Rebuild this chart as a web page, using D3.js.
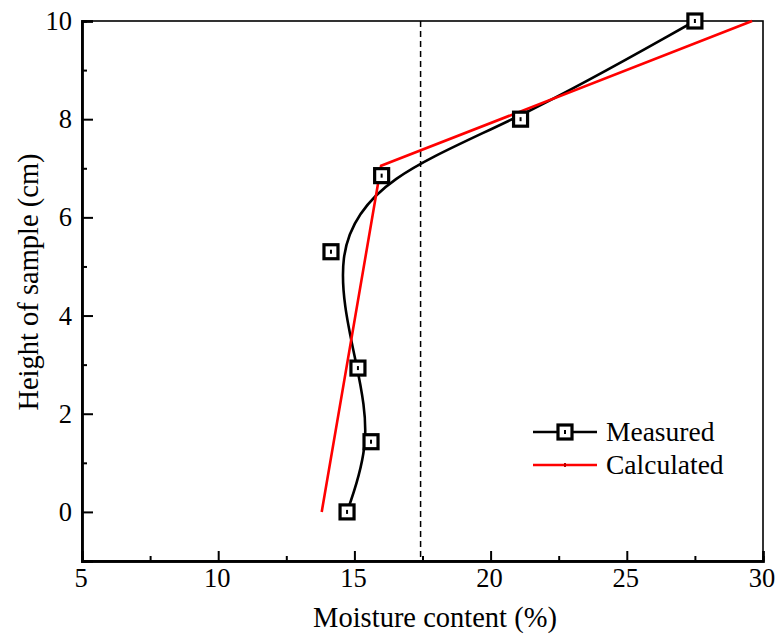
<!DOCTYPE html>
<html>
<head>
<meta charset="utf-8">
<script src="https://cdn.jsdelivr.net/npm/d3@7"></script>
<style>
  body { margin: 0; background: #fff; }
  svg { display: block; font-family: "Liberation Serif", "Times New Roman", serif; }
</style>
</head>
<body>
<svg id="chart" width="780" height="634"></svg>
<script>
// measured moisture profile
const measuredMoisture = [14.73, 15.61, 15.13, 14.14, 16.0, 21.1, 27.5];
const measuredHeight = [0, 1.43, 2.93, 5.3, 6.85, 8.0, 10.0];

// calculated profile
const calcMoisture = [13.8, 15.98, 29.6];
const calcHeight = [0, 7.05, 10.0];

const thresholdMoisture = 17.43;

const xTicks = [5, 10, 15, 20, 25, 30];
const yTicks = [0, 2, 4, 6, 8, 10];

const margin = { left: 82, right: 17, top: 21, bottom: 73 };
const width = 780, height = 634;

const svg = d3.select("#chart");

const x = d3.scaleLinear().domain([5, 30]).range([margin.left, width - margin.right]);
const y = d3.scaleLinear().domain([-1, 10]).range([height - margin.bottom, margin.top]);

// frame
svg.append("rect")
  .attr("x", x(5)).attr("y", y(10))
  .attr("width", x(30) - x(5)).attr("height", y(-1) - y(10))
  .attr("fill", "none").attr("stroke", "#000").attr("stroke-width", 1.6);

// axes with inward ticks
const xMinor = d3.range(7.5, 30, 5);
const yMinor = d3.range(-1, 10, 2);

const xAxis = svg.append("g").attr("transform", `translate(0,${y(-1)})`)
  .call(d3.axisTop(x).tickValues(xTicks).tickSize(10).tickFormat(""));
const xAxisMinor = svg.append("g").attr("transform", `translate(0,${y(-1)})`)
  .call(d3.axisTop(x).tickValues(xMinor).tickSize(5).tickFormat(""));
const yAxis = svg.append("g").attr("transform", `translate(${x(5)},0)`)
  .call(d3.axisRight(y).tickValues(yTicks).tickSize(11).tickFormat(""));
const yAxisMinor = svg.append("g").attr("transform", `translate(${x(5)},0)`)
  .call(d3.axisRight(y).tickValues(yMinor).tickSize(5).tickFormat(""));

[xAxis, xAxisMinor, yAxis, yAxisMinor].forEach((g) => {
  g.select(".domain").attr("stroke-width", 2.4);
  g.selectAll(".tick line").attr("stroke-width", 2);
});

// tick labels
svg.append("g").selectAll("text")
  .data(xTicks).enter().append("text")
  .attr("x", (d) => x(d) - 1).attr("y", 587)
  .attr("text-anchor", "middle").attr("font-size", 26.5)
  .text((d) => d);

svg.append("g").selectAll("text")
  .data(yTicks).enter().append("text")
  .attr("x", 72).attr("y", (d) => y(d) + 9)
  .attr("text-anchor", "end").attr("font-size", 26.5)
  .text((d) => d);

// axis titles
svg.append("text")
  .attr("x", 435).attr("y", 627)
  .attr("text-anchor", "middle").attr("font-size", 28.5)
  .text("Moisture content (%)");

svg.append("text")
  .attr("transform", "translate(38,282) rotate(-90)")
  .attr("text-anchor", "middle").attr("font-size", 28.5)
  .text("Height of sample (cm)");

// dashed threshold line
svg.append("line")
  .attr("x1", x(thresholdMoisture)).attr("x2", x(thresholdMoisture))
  .attr("y1", y(10)).attr("y2", y(-1))
  .attr("stroke", "#000").attr("stroke-width", 1.5)
  .attr("stroke-dasharray", "6,4");

const measured = measuredMoisture.map((m, i) => [m, measuredHeight[i]]);
const calculated = calcMoisture.map((m, i) => [m, calcHeight[i]]);

// measured smoothed curve
svg.append("path")
  .datum(measured)
  .attr("fill", "none").attr("stroke", "#000").attr("stroke-width", 2.6)
  .attr("d", d3.line().x((d) => x(d[0])).y((d) => y(d[1])).curve(d3.curveBasis));

// calculated line
svg.append("path")
  .datum(calculated)
  .attr("fill", "none").attr("stroke", "#f00").attr("stroke-width", 2.6)
  .attr("d", d3.line().x((d) => x(d[0])).y((d) => y(d[1])));

const drawMarker = (g, cx, cy) => {
  g.append("rect")
    .attr("x", cx - 7).attr("y", cy - 7).attr("width", 14).attr("height", 14)
    .attr("fill", "#fff").attr("stroke", "#000").attr("stroke-width", 3.2);
  g.append("rect")
    .attr("x", cx - 1).attr("y", cy - 2).attr("width", 2).attr("height", 4)
    .attr("fill", "#000");
};

const markers = svg.append("g");
measured.forEach((d) => drawMarker(markers, x(d[0]), y(d[1])));

// legend
const legend = svg.append("g");
legend.append("line").attr("x1", 533).attr("x2", 597).attr("y1", 432).attr("y2", 432)
  .attr("stroke", "#000").attr("stroke-width", 2.6);
drawMarker(legend, 565, 432);
legend.append("text").attr("x", 606).attr("y", 441).attr("font-size", 27.5).text("Measured");

legend.append("line").attr("x1", 533).attr("x2", 597).attr("y1", 465).attr("y2", 465)
  .attr("stroke", "#f00").attr("stroke-width", 2.6);
legend.append("rect").attr("x", 564).attr("y", 463).attr("width", 2).attr("height", 4)
  .attr("fill", "#b00");
legend.append("text").attr("x", 606).attr("y", 474).attr("font-size", 27.5).text("Calculated");
</script>
</body>
</html>
